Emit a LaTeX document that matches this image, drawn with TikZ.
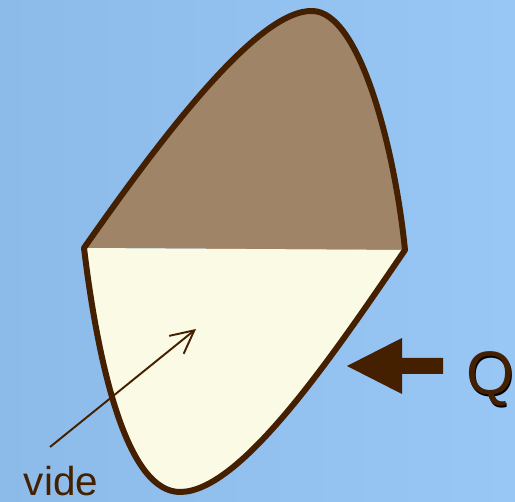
\documentclass[tikz,border=0pt]{standalone}
\usepackage{fontspec}
\setmainfont{Liberation Sans}
\usetikzlibrary{arrows.meta}
\definecolor{bgl}{HTML}{8DBBE9}
\definecolor{bgr}{HTML}{98C7F5}
\definecolor{outl}{HTML}{452000}
\definecolor{topf}{HTML}{A08468}
\definecolor{botf}{HTML}{FBFAE5}
\tikzset{
  outline/.style={draw=outl, line width=3.4pt, line join=round},
  thinarrow/.style={draw=outl, line width=1.1pt, -{Straight Barb[length=4.6mm,width=4.6mm,line width=1.1pt]}},
}
\begin{document}
\begin{tikzpicture}[x=0.02cm,y=-0.02cm]
\shade[left color=bgl,right color=bgr] (0,0) rectangle (515,502);
\useasboundingbox (0,0) rectangle (515,502);
\coordinate (L) at (84,248);
\coordinate (R) at (405,250);
\coordinate (T) at (312,11);
\coordinate (B) at (180,492);
% fills
\fill[topf] (L) .. controls (170,125) and (260,10) .. (T)
  .. controls (360,11) and (395,150) .. (R) -- cycle;
\fill[botf] (L) .. controls (100,380) and (130,492) .. (B)
  .. controls (240,492) and (330,360) .. (R) -- cycle;
% outline
\draw[outline] (L) .. controls (170,125) and (260,10) .. (T)
  .. controls (360,11) and (395,150) .. (R)
  .. controls (330,360) and (240,492) .. (B)
  .. controls (130,492) and (100,380) .. (L) -- cycle;
% Q arrow
\fill[outl] (347,366) -- (402,338) -- (402,358) -- (443,358) -- (443,374) -- (402,374) -- (402,394) -- cycle;
\node[text=black, font=\fontsize{35}{40}\selectfont, inner sep=0pt] at (491.5,380.5) {Q};
\node[text=outl, font=\fontsize{35}{40}\selectfont, inner sep=0pt] (Q) at (490,379) {Q};
% vide
\node[text=outl, font=\fontsize{23}{28}\selectfont, anchor=base, inner sep=0pt] (vide) at (61,496) {vide};
\coordinate (vtail) at (50,447);
\coordinate (vtip) at (196,329);
\draw[thinarrow] (vtail) -- (vtip);
\end{tikzpicture}
\end{document}
